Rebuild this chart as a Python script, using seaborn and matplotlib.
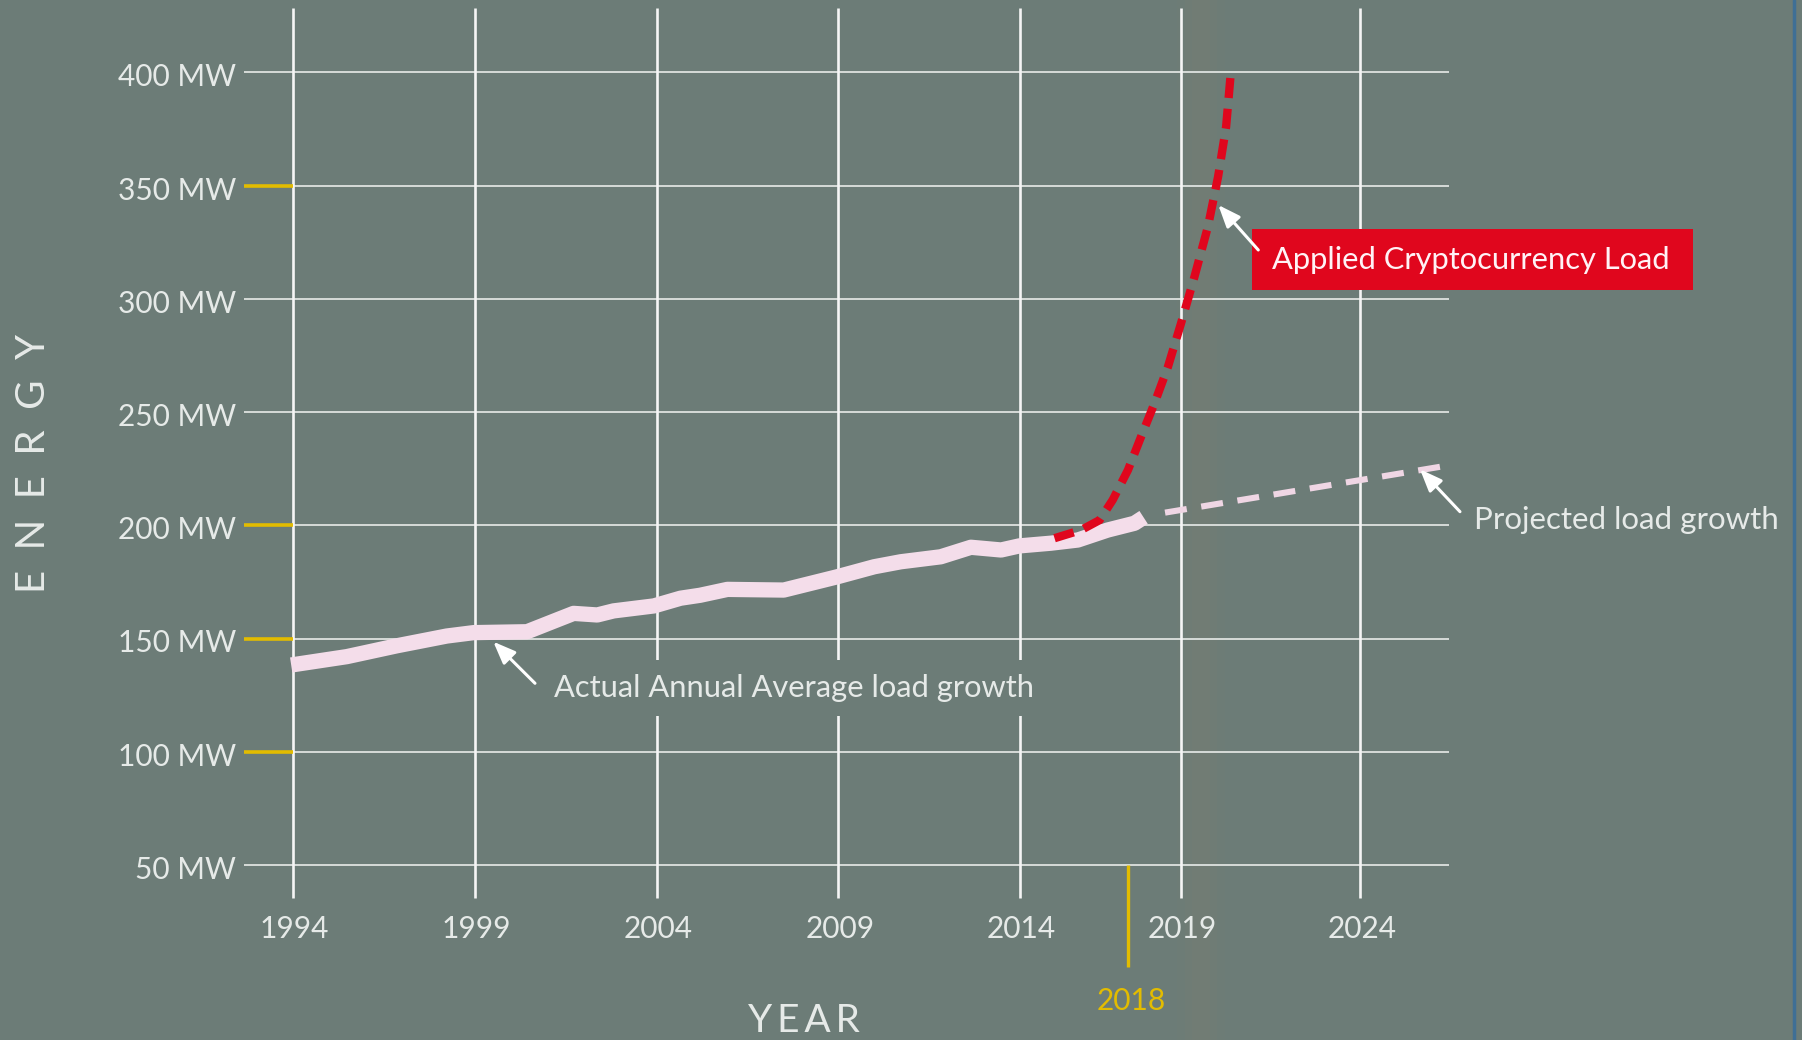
import matplotlib
matplotlib.use("Agg")
import matplotlib.pyplot as plt
from matplotlib.patches import Rectangle
import seaborn as sns

# ---------------- data ----------------
actual_years = [1993.95, 1995.48, 1996.86, 1998.23, 1998.97, 2000.44, 2001.26, 2001.72,
                2002.37, 2002.82, 2003.93, 2004.66, 2005.2, 2005.95, 2007.5, 2008.98,
                2009.99, 2010.72, 2011.82, 2012.65, 2013.48, 2013.98, 2014.85, 2015.59,
                2016.41, 2017.15, 2017.4]
actual_mw = [138.3, 142.0, 146.8, 151.1, 152.6, 153.0, 158.2, 161.1,
             160.4, 162.2, 164.4, 167.8, 169.1, 171.7, 171.4, 177.3,
             181.7, 183.9, 186.1, 190.3, 189.1, 190.9, 192.1, 193.5,
             197.9, 200.9, 203.5]

crypto_years = [2014.95, 2015.68, 2016.19, 2016.55, 2016.97, 2017.33, 2017.7, 2018.07,
                2018.43, 2018.8, 2019.17, 2019.45, 2019.67, 2019.8]
crypto_mw = [194.3, 197.9, 202.3, 211.2, 224.4, 239.1, 253.9, 270.0,
             289.2, 309.8, 331.9, 354.0, 376.0, 400.0]

projected_years = [2017.99, 2025.69]
projected_mw = [205.6, 226.2]

y_ticks = [400, 350, 300, 250, 200, 150, 100, 50]
y_tick_labels = ["400 MW", "350 MW", "300 MW", "250 MW", "200 MW", "150 MW", "100 MW", "50 MW"]
y_marked = [350, 200, 150, 100]          # ticks with yellow marks
x_tick_pos = [1994, 1999, 2004, 2009, 2014, 2018.42, 2023.36]
x_tick_labels = ["1994", "1999", "2004", "2009", "2014", "2019", "2024"]
marker_year = 2016.98
marker_label = "2018"

# ---------------- layout helpers (pixel -> data) ----------------
W, H = 1802, 1040
def px_x(px):
    return 1994 + (px - 293) / 36.35
def px_y(py):
    return 225 + (468.7 - py) / 2.2642

BG = "#6C7C77"
LIGHT = "#E6EAE8"
YELLOW = "#E3BC00"
RED = "#E0061D"
PINK = "#F4DDEA"

sns.set_theme(style="white")
plt.rcParams["font.family"] = ["Lato", "DejaVu Sans"]

fig = plt.figure(figsize=(W / 100, H / 100), dpi=100, facecolor=BG)
ax = fig.add_axes([0, 0, 1, 1])
ax.set_facecolor(BG)
ax.set_xlim(px_x(0), px_x(W))
ax.set_ylim(px_y(H), px_y(0))
ax.axis("off")

# subtle warm vertical band of the scan
for half, a in [(0.65, 0.06), (0.45, 0.07), (0.25, 0.08)]:
    ax.axvspan(2018.98 - half, 2018.98 + half, color="#8A8470", alpha=a, lw=0, zorder=0)
ax.axvline(px_x(1794), color="#3F6F95", lw=2.5, zorder=0)

# gridlines
gx0, gx1 = px_x(244), px_x(1449)
ax.hlines(y_ticks, gx0, gx1, color="#D6DBD8", lw=1.4, zorder=1)
ax.hlines(y_marked, gx0, 1994, color=YELLOW, lw=2.6, zorder=2)
ax.vlines(x_tick_pos, px_y(898), px_y(8), color="#F5F5F5", lw=1.9, zorder=1)

# series
sns.lineplot(x=actual_years, y=actual_mw, ax=ax, color=PINK, lw=11,
             estimator=None, sort=False, solid_capstyle="butt", solid_joinstyle="round", zorder=4)
sns.lineplot(x=projected_years, y=projected_mw, ax=ax, color="#EFD6E4", lw=4.4,
             estimator=None, sort=False, linestyle=(0, (3.6, 2.4)), zorder=3)
sns.lineplot(x=crypto_years, y=crypto_mw, ax=ax, color=RED, lw=6,
             estimator=None, sort=False, linestyle=(0, (2.4, 1.3)), zorder=5)
if ax.get_legend() is not None:
    ax.get_legend().remove()

# tick labels
for v, lab in zip(y_ticks, y_tick_labels):
    ax.text(px_x(236), v - 2.2, lab, ha="right", va="center", fontsize=21.5, color=LIGHT, zorder=6)
for xp, lab in zip(x_tick_pos, x_tick_labels):
    ax.text(xp + 0.04, px_y(928.5), lab, ha="center", va="center", fontsize=21.5, color=LIGHT, zorder=6)

# 2018 marker
ax.vlines([marker_year], px_y(967), px_y(865), color=YELLOW, lw=2.4, zorder=2)
ax.text(marker_year + 0.08, px_y(1001), marker_label, ha="center", va="center",
        fontsize=21.5, color=YELLOW, zorder=6)

# axis titles
ax.text(px_x(803.5), px_y(1021), "Y\u2009E\u2009A\u2009R", ha="center", va="center", fontsize=28,
        color=LIGHT, zorder=6, family=["Lato", "DejaVu Sans"])
ax.text(px_x(33), px_y(463), "E  N  E  R  G  Y", ha="center", va="center", fontsize=29,
        rotation=90, color=LIGHT, zorder=6)

# annotations
arrow = dict(arrowstyle="-|>,head_length=0.75,head_width=0.3", color="white", lw=2.2,
             mutation_scale=18, shrinkA=0, shrinkB=0)
ax.annotate("", xy=(px_x(493.3), px_y(641.7)), xytext=(px_x(535), px_y(683.3)),
            arrowprops=arrow, zorder=7)
ax.text(px_x(554), px_y(688), "Actual Annual Average load growth", ha="left", va="center",
        fontsize=22.2, color=LIGHT, zorder=6,
        bbox=dict(boxstyle="square,pad=0.45", fc=BG, ec="none"))

ax.annotate("", xy=(px_x(1420), px_y(469.3)), xytext=(px_x(1460), px_y(511.7)),
            arrowprops=arrow, zorder=7)
ax.text(px_x(1474), px_y(520), "Projected load growth", ha="left", va="center",
        fontsize=22.5, color=LIGHT, zorder=6)

ax.annotate("", xy=(px_x(1218.3), px_y(205)), xytext=(px_x(1258.3), px_y(250)),
            arrowprops=arrow, zorder=7)
ax.add_patch(Rectangle((px_x(1252), px_y(290)), px_x(1693) - px_x(1252), px_y(229) - px_y(290),
                       fc=RED, ec="none", zorder=6))
ax.text(px_x(1470.5), px_y(259.5), "Applied Cryptocurrency Load", ha="center", va="center",
        fontsize=22.2, color="#FFF2F6", zorder=7)

fig.savefig("out.png", dpi=100, facecolor=BG)
